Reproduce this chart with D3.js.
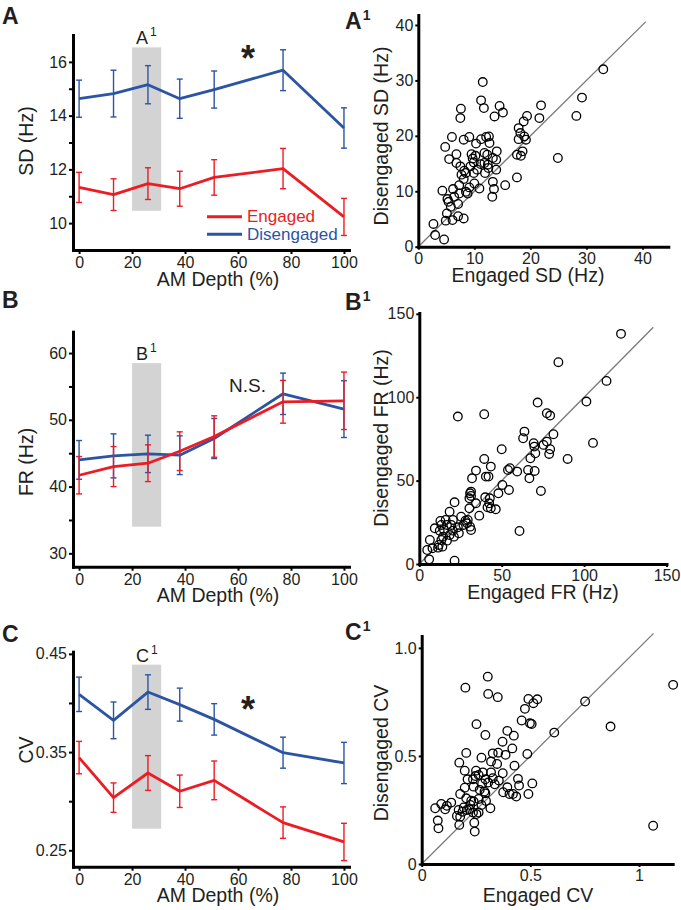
<!DOCTYPE html>
<html><head><meta charset="utf-8">
<script src="https://cdn.jsdelivr.net/npm/d3@7"></script>
<style>
body{margin:0;background:#fff;}
svg text{font-family:"Liberation Sans",Arial,Helvetica,sans-serif;fill:#231f20;}
</style></head><body>
<svg id="chart" width="681" height="910"></svg>
<script>
// ---------- DATA ----------
const amDepth = [0, 13, 26, 38, 51, 77, 100];
const depthTicks = [0, 20, 40, 60, 80, 100];

const sdEngaged = [11.33, 11.06, 11.47, 11.28, 11.70, 12.03, 10.23];
const sdEngagedErr = [0.56, 0.59, 0.59, 0.65, 0.66, 0.75, 0.69];
const sdDisengaged = [14.63, 14.82, 15.15, 14.63, 14.97, 15.69, 13.54];
const sdDisengagedErr = [0.69, 0.87, 0.71, 0.73, 0.69, 0.76, 0.75];
const sdTicks = [10, 11, 12, 13, 14, 15, 16];
const sdTickLabels = ["10", "", "12", "", "14", "", "16"];

const frEngaged = [41.7, 43.0, 43.5, 45.3, 47.5, 52.7, 52.85];
const frEngagedErr = [2.8, 3.0, 2.75, 2.9, 3.1, 3.2, 4.3];
const frDisengaged = [44.0, 44.6, 44.9, 44.7, 47.2, 53.9, 51.6];
const frDisengagedErr = [2.9, 3.3, 2.8, 2.9, 3.0, 3.1, 4.25];
const frTicks = [30, 35, 40, 45, 50, 55, 60];
const frTickLabels = ["30", "", "40", "", "50", "", "60"];

const cvEngaged = [0.3444, 0.3036, 0.3287, 0.3101, 0.3212, 0.2782, 0.2585];
const cvEngagedErr = [0.0165, 0.015, 0.0177, 0.0165, 0.0197, 0.016, 0.019];
const cvDisengaged = [0.4088, 0.3823, 0.4111, 0.3983, 0.3833, 0.3494, 0.3389];
const cvDisengagedErr = [0.0175, 0.0187, 0.0176, 0.0168, 0.016, 0.0158, 0.021];
const cvTicks = [0.25, 0.30, 0.35, 0.40, 0.45];
const cvTickLabels = ["0.25", "", "0.35", "", "0.45"];

// highlighted depth range (shaded band) and its vertical extent per panel
const shadeDepth = [20, 31];
const sdShade = [10.46, 16.54];
const frShade = [34.0, 58.5];
const cvShade = [0.272, 0.439];

// scatter: [engaged, disengaged] per neuron
const sdPairs = [[2.7,4.1],[3.0,2.1],[4.6,1.3],[4.3,10.1],[4.8,18.0],[4.9,4.7],[5.1,6.0],[5.4,8.1],[5.2,8.6],[5.5,15.8],[6.0,19.8],[5.8,7.2],[6.1,4.8],[6.2,10.4],[6.4,9.0],[6.8,16.7],[6.8,15.1],[7.1,7.7],[7.1,5.5],[7.3,9.6],[7.3,11.1],[7.5,14.5],[7.5,23.2],[7.6,24.9],[7.7,13.0],[8.1,5.1],[8.1,12.2],[8.2,13.7],[8.1,19.3],[8.5,13.3],[8.5,9.9],[8.8,9.6],[9.1,19.8],[9.1,10.7],[9.3,14.5],[9.5,16.7],[9.7,15.9],[9.9,15.2],[9.9,13.3],[10.0,11.4],[10.2,16.4],[10.3,18.6],[10.5,13.9],[10.9,10.5],[11.1,14.9],[11.2,26.4],[11.2,19.4],[11.5,29.7],[11.7,25.0],[11.8,16.9],[11.8,15.1],[11.9,13.3],[12.1,19.8],[12.3,16.6],[12.4,14.8],[12.5,14.2],[12.7,18.7],[12.6,19.9],[13.3,16.0],[13.3,11.7],[13.5,10.4],[13.2,9.0],[13.6,23.5],[13.9,15.7],[13.9,13.9],[14.0,17.2],[14.5,25.4],[15.1,24.2],[15.5,11.1],[17.6,12.5],[17.6,16.6],[17.9,21.4],[17.9,19.4],[18.2,20.5],[18.3,16.4],[18.6,17.2],[18.8,22.6],[18.9,19.9],[19.2,19.3],[19.4,23.6],[21.6,23.2],[21.9,25.5],[24.9,16.0],[28.2,23.6],[29.2,26.9],[33.0,32.0]];
const sdScatterTicks = [0, 10, 20, 30, 40];

const frPairs = [[122.4,138],[84.4,121],[113.6,109.8],[101.4,97.4],[71.8,96.8],[23.4,88.4],[39.4,89.8],[77.4,90.4],[79.4,89],[63.8,79.4],[63,75.4],[81.4,77.8],[105.4,72.6],[69.4,72.4],[77.4,73.4],[75.4,71.4],[69.8,70.4],[70.4,66.4],[79.4,68.8],[78.8,66],[67.4,63.4],[50,68.8],[90,63],[39.4,63],[43.4,58.4],[34.4,56],[40.4,52.4],[42,52.4],[32,51.4],[55,57.4],[53.8,56.4],[59.4,55.4],[66,56.4],[70,55.8],[66.8,51.4],[73.8,43.8],[50.4,47.4],[54.4,44.4],[48,42.4],[31.4,43.4],[30.8,42.4],[30.4,39.4],[40,40],[42.8,39.4],[42.4,36.4],[43.4,33.4],[46.4,32.8],[41.4,34],[34.4,36.4],[36.4,29],[30.4,33.4],[31.4,20.4],[30.8,22.4],[29,24.4],[28,26],[26.8,23.4],[29.4,26.4],[25.4,28.4],[21.4,37],[23.4,22],[20.4,26.4],[21,16.4],[21.4,2],[19.4,23.4],[18.4,31.4],[16,26.4],[16.8,23.4],[15,20.4],[14.4,16.4],[13.4,14.4],[12.8,25.8],[12.4,20],[11.8,11.4],[14,10.4],[11.4,9.8],[9.4,21.4],[8,9.4],[6.4,14.4],[4.8,8.4],[6,2.8],[60.8,19.8],[16.8,14],[18.4,17.4],[24,18.4],[20.4,20],[13.4,23.4],[31.4,40.8]];
const frScatterTicks = [0, 50, 100, 150];

const cvPairs = [[1.157,0.829],[1.065,0.177],[0.869,0.636],[0.752,0.752],[0.610,0.608],[0.304,0.867],[0.201,0.816],[0.306,0.787],[0.350,0.772],[0.491,0.764],[0.532,0.762],[0.514,0.744],[0.475,0.718],[0.460,0.664],[0.498,0.651],[0.506,0.648],[0.252,0.647],[0.293,0.597],[0.394,0.616],[0.424,0.594],[0.372,0.566],[0.417,0.535],[0.327,0.512],[0.352,0.515],[0.386,0.505],[0.486,0.509],[0.205,0.514],[0.275,0.492],[0.319,0.474],[0.347,0.463],[0.427,0.455],[0.173,0.469],[0.198,0.432],[0.250,0.432],[0.281,0.424],[0.319,0.424],[0.373,0.420],[0.247,0.407],[0.262,0.412],[0.211,0.392],[0.236,0.392],[0.293,0.392],[0.327,0.397],[0.355,0.386],[0.306,0.377],[0.278,0.373],[0.443,0.394],[0.448,0.363],[0.509,0.373],[0.239,0.358],[0.198,0.353],[0.267,0.343],[0.289,0.335],[0.336,0.369],[0.394,0.355],[0.375,0.332],[0.404,0.324],[0.420,0.324],[0.435,0.312],[0.491,0.324],[0.177,0.324],[0.205,0.304],[0.228,0.293],[0.239,0.289],[0.262,0.301],[0.296,0.292],[0.316,0.258],[0.275,0.273],[0.224,0.273],[0.193,0.262],[0.170,0.250],[0.188,0.242],[0.162,0.222],[0.177,0.219],[0.208,0.250],[0.236,0.238],[0.252,0.231],[0.242,0.191],[0.244,0.150],[0.173,0.181],[0.136,0.284],[0.116,0.269],[0.090,0.278],[0.062,0.258],[0.108,0.253],[0.074,0.201],[0.077,0.165],[0.219,0.253],[0.262,0.238],[0.293,0.327]];
const cvScatterXTicks = [0, 0.5, 1];
const cvScatterXLabels = ["0", "0.5", "1"];
const cvScatterYTicks = [0, 0.5, 1.0];
const cvScatterYLabels = ["0", "0.5", "1.0"];

// unity line extent per scatter
const unityMax = {sd: 40.6, fr: 142, cv: 1.067};

// ---------- DRAWING ----------
const RED = "#ec1c24", BLUE = "#2b54a3";
const TICK_FS = 16;
const svg = d3.select("#chart");
const xDepth = d3.scaleLinear().domain([-2.3, 101.9]).range([73, 349]);

function styleAxis(g, lw) {
  g.select(".domain").attr("stroke", "#000").attr("stroke-width", lw).attr("stroke-linecap", "square");
  g.selectAll(".tick line").attr("stroke", "#000").attr("stroke-width", 2);
  g.selectAll(".tick text").attr("font-size", TICK_FS).attr("fill", "#231f20")
    .attr("font-family", '"Liberation Sans",Arial,sans-serif');
}

function drawSeries(g, y, vals, errs, color) {
  const line = d3.line().x((d, i) => xDepth(amDepth[i])).y(d => y(d));
  g.append("path").datum(vals).attr("d", line).attr("fill", "none")
    .attr("stroke", color).attr("stroke-width", 2.8).attr("stroke-linejoin", "round");
  const eb = g.append("g").attr("stroke", color).attr("stroke-width", 1.4);
  vals.forEach((v, i) => {
    const x = xDepth(amDepth[i]);
    eb.append("line").attr("x1", x).attr("x2", x).attr("y1", y(v - errs[i])).attr("y2", y(v + errs[i]));
    [v - errs[i], v + errs[i]].forEach(e => {
      eb.append("line").attr("x1", x - 3).attr("x2", x + 3).attr("y1", y(e)).attr("y2", y(e));
    });
  });
}

function linePanel(o) {
  const y = d3.scaleLinear().domain(o.yDomain).range([o.yBottom, o.yTop]);
  const g = svg.append("g");
  g.append("rect").attr("x", xDepth(shadeDepth[0])).attr("width", xDepth(shadeDepth[1]) - xDepth(shadeDepth[0]))
    .attr("y", y(o.shade[1])).attr("height", y(o.shade[0]) - y(o.shade[1])).attr("fill", "#d3d3d3");
  drawSeries(g, y, o.dis, o.disErr, BLUE);
  drawSeries(g, y, o.eng, o.engErr, RED);
  const ya = g.append("g").attr("transform", "translate(73,0)")
    .call(d3.axisLeft(y).tickValues(o.ticks).tickSize(4).tickSizeOuter(0).tickPadding(2)
      .tickFormat((d, i) => o.tickLabels[i]));
  styleAxis(ya, 3);
  const xa = g.append("g").attr("transform", `translate(0,${o.yBottom})`)
    .call(d3.axisBottom(xDepth).tickValues(depthTicks).tickSize(4).tickSizeOuter(0).tickPadding(2).tickFormat(d3.format("d")));
  styleAxis(xa, 3);
  xa.selectAll(".tick text").attr("dy", "0.75em");
  g.append("text").attr("transform", `translate(33,${o.yLabelY}) rotate(-90)`).attr("text-anchor", "middle")
    .attr("font-size", 19.5).text(o.yLabel);
  g.append("text").attr("x", 218).attr("y", o.yBottom + 35.5).attr("text-anchor", "middle").attr("font-size", 19.5).text("AM Depth (%)");
  g.append("text").attr("x", 2).attr("y", o.letterY).attr("font-size", 23).attr("font-weight", "bold").text(o.letter);
  const bl = g.append("text").attr("x", 136).attr("y", y(o.shade[1]) - 3).attr("font-size", 18);
  bl.append("tspan").text(o.letter);
  bl.append("tspan").attr("dx", 2).attr("dy", -8).attr("font-size", 12).text("1");
  return {g, y};
}

// Panel A
const pA = linePanel({yDomain: [9, 17], yTop: 35, yBottom: 250, ticks: sdTicks, tickLabels: sdTickLabels,
  eng: sdEngaged, engErr: sdEngagedErr, dis: sdDisengaged, disErr: sdDisengagedErr, shade: sdShade,
  yLabel: "SD (Hz)", yLabelY: 141, letter: "A", letterY: 24});
pA.g.append("text").attr("x", 248).attr("y", 71).attr("text-anchor", "middle").attr("font-size", 36)
  .attr("font-weight", "bold").text("*");
[["Engaged", RED, 216.7], ["Disengaged", BLUE, 234.3]].forEach(([t, c, ly]) => {
  pA.g.append("line").attr("x1", 207).attr("x2", 242).attr("y1", ly).attr("y2", ly).attr("stroke", c).attr("stroke-width", 3);
  pA.g.append("text").attr("x", 247).attr("y", ly + 5.5).attr("font-size", 17).style("fill", c).text(t);
});

// Panel B
const pB = linePanel({yDomain: [28, 63.2], yTop: 331.7, yBottom: 566.7, ticks: frTicks, tickLabels: frTickLabels,
  eng: frEngaged, engErr: frEngagedErr, dis: frDisengaged, disErr: frDisengagedErr, shade: frShade,
  yLabel: "FR (Hz)", yLabelY: 462, letter: "B", letterY: 308});
pB.g.append("text").attr("x", 229).attr("y", 392).attr("font-size", 19).text("N.S.");

// Panel C
const pC = linePanel({yDomain: [0.2333, 0.4522], yTop: 651.7, yBottom: 866.7, ticks: cvTicks, tickLabels: cvTickLabels,
  eng: cvEngaged, engErr: cvEngagedErr, dis: cvDisengaged, disErr: cvDisengagedErr, shade: cvShade,
  yLabel: "CV", yLabelY: 750, letter: "C", letterY: 642});
pC.g.append("text").attr("x", 248).attr("y", 722).attr("text-anchor", "middle").attr("font-size", 36)
  .attr("font-weight", "bold").text("*");

// Scatter panels
function scatterPanel(o) {
  const x = d3.scaleLinear().domain(o.xDomain).range([o.left, o.right]);
  const y = d3.scaleLinear().domain(o.yDomain).range([o.bottom, o.top]);
  const g = svg.append("g");
  g.append("line").attr("x1", x(0)).attr("y1", y(0)).attr("x2", x(o.unity)).attr("y2", y(o.unity))
    .attr("stroke", "#7a7a7a").attr("stroke-width", 1.3);
  g.append("g").selectAll("circle").data(o.pairs).join("circle")
    .attr("cx", d => x(d[0])).attr("cy", d => y(d[1])).attr("r", 4.3)
    .attr("fill", "none").attr("stroke", "#000").attr("stroke-width", 1.3);
  const ya = g.append("g").attr("transform", `translate(${o.left},0)`)
    .call(d3.axisLeft(y).tickValues(o.yTicks).tickSize(3).tickSizeOuter(0).tickPadding(2)
      .tickFormat((d, i) => o.yLabels[i]));
  styleAxis(ya, 3);
  const xa = g.append("g").attr("transform", `translate(0,${o.bottom})`)
    .call(d3.axisBottom(x).tickValues(o.xTicks).tickSize(3).tickSizeOuter(0).tickPadding(2)
      .tickFormat((d, i) => o.xLabels[i]));
  styleAxis(xa, 3);
  xa.selectAll(".tick text").attr("dy", "0.75em");
  g.append("text").attr("transform", `translate(388,${o.yLabelY}) rotate(-90)`).attr("text-anchor", "middle")
    .attr("font-size", 19.5).text(o.yLabel);
  g.append("text").attr("x", o.xLabelX).attr("y", o.xLabelY).attr("text-anchor", "middle").attr("font-size", 19.5).text(o.xLabel);
  const pl = g.append("text").attr("x", 345).attr("y", o.letterY).attr("font-size", 23).attr("font-weight", "bold");
  pl.append("tspan").text(o.letter);
  pl.append("tspan").attr("dx", 1).attr("dy", -9).attr("font-size", 14).text("1");
}

const sdLabels = sdScatterTicks.map(String);
scatterPanel({xDomain: [0, 44.6], yDomain: [0, 41.8], left: 418.3, right: 668.3, top: 15, bottom: 246.7,
  pairs: sdPairs, unity: unityMax.sd, xTicks: sdScatterTicks, xLabels: sdLabels, yTicks: sdScatterTicks, yLabels: sdLabels,
  yLabel: "Disengaged SD (Hz)", yLabelY: 136, xLabel: "Engaged SD (Hz)", xLabelX: 528, xLabelY: 282, letter: "A", letterY: 29});

const frLabels = frScatterTicks.map(String);
scatterPanel({xDomain: [0, 150], yDomain: [0, 150.5], left: 419.3, right: 666.5, top: 313, bottom: 564,
  pairs: frPairs, unity: unityMax.fr, xTicks: frScatterTicks, xLabels: frLabels, yTicks: frScatterTicks, yLabels: frLabels,
  yLabel: "Disengaged FR (Hz)", yLabelY: 438, xLabel: "Engaged FR (Hz)", xLabelX: 543, xLabelY: 599, letter: "B", letterY: 310});

scatterPanel({xDomain: [0, 1.155], yDomain: [0, 1.055], left: 421.7, right: 672.7, top: 636, bottom: 864,
  pairs: cvPairs, unity: unityMax.cv, xTicks: cvScatterXTicks, xLabels: cvScatterXLabels, yTicks: cvScatterYTicks, yLabels: cvScatterYLabels,
  yLabel: "Disengaged CV", yLabelY: 753, xLabel: "Engaged CV", xLabelX: 538, xLabelY: 901.5, letter: "C", letterY: 640});
</script>
</body></html>
